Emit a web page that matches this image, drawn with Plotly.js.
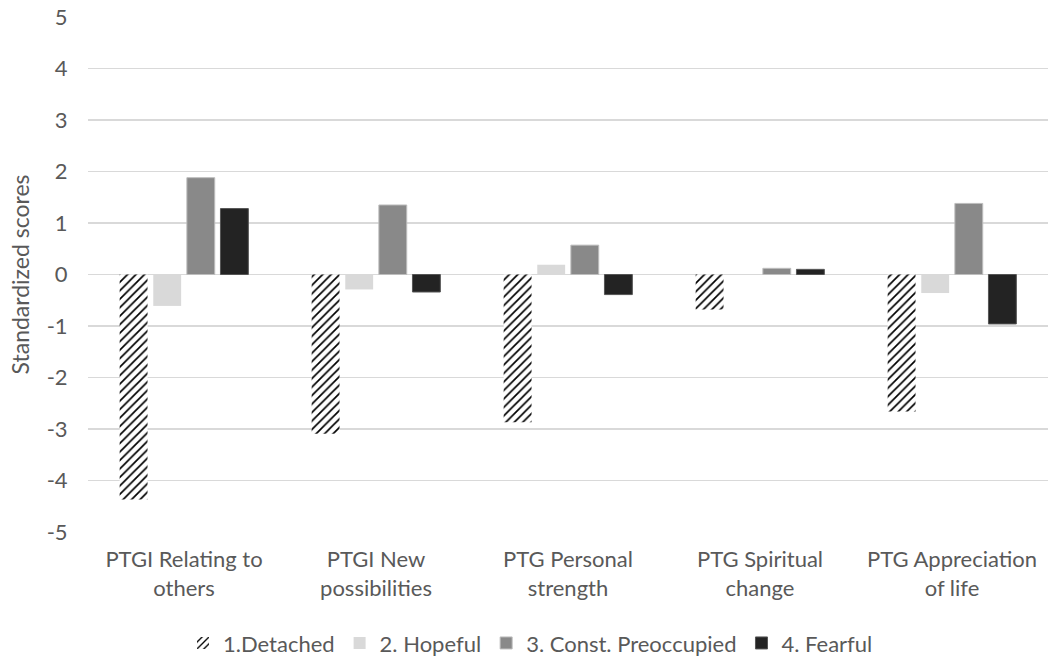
<!DOCTYPE html>
<html>
<head>
<meta charset="utf-8">
<script src="https://cdn.plot.ly/plotly-3.0.1.min.js"></script>
<style>html,body{margin:0;padding:0;background:#fff;}#chart{width:1061px;height:661px;}</style>
</head>
<body>
<div id="chart"></div>
<script>
const categories = ["PTGI Relating to<br>others", "PTGI New<br>possibilities", "PTG Personal<br>strength", "PTG Spiritual<br>change", "PTG Appreciation<br>of life"];
const seriesNames = ["1.Detached", "2. Hopeful", "3. Const. Preoccupied", "4. Fearful"];
const detached = [-4.37, -3.09, -2.87, -0.68, -2.66];
const hopeful = [-0.61, -0.29, 0.19, 0.01, -0.36];
const preoccupied = [1.88, 1.35, 0.57, 0.12, 1.38];
const fearful = [1.28, -0.34, -0.39, 0.10, -0.96];
const yTicks = [-5, -4, -3, -2, -1, 0, 1, 2, 3, 4, 5];

const font = "Lato, Open Sans, sans-serif";
const traces = [
  {type: "bar", name: seriesNames[0], x: categories, y: detached,
   marker: {color: "#ffffff", line: {width: 0},
            pattern: {shape: "/", fgcolor: "#000000", bgcolor: "#ffffff", size: 6, solidity: 0.28}}},
  {type: "bar", name: seriesNames[1], x: categories, y: hopeful,
   marker: {color: "#d9d9d9", line: {width: 0}}},
  {type: "bar", name: seriesNames[2], x: categories, y: preoccupied,
   marker: {color: "#898989", line: {color: "#bdbdbd", width: 1}}},
  {type: "bar", name: seriesNames[3], x: categories, y: fearful,
   marker: {color: "#232323", line: {color: "#555555", width: 1}}}
];

const layout = {
  width: 1061, height: 661,
  margin: {l: 88, r: 13, t: 17, b: 129},
  paper_bgcolor: "#ffffff", plot_bgcolor: "#ffffff",
  barmode: "group", bargap: 0.3, bargroupgap: 0.17,
  font: {family: font, color: "#595959", size: 22},
  xaxis: {showgrid: false, zeroline: false, showline: false,
          ticks: "outside", ticklen: 8, tickcolor: "rgba(0,0,0,0)",
          tickfont: {size: 22, color: "#595959"}, automargin: false},
  yaxis: {range: [-5, 5], tickvals: yTicks, ticktext: yTicks.map(String),
          showgrid: true, gridcolor: "#d9d9d9", gridwidth: 1.5,
          zeroline: true, zerolinecolor: "#d9d9d9", zerolinewidth: 1.5,
          showline: false, ticks: "outside", ticklen: 15, tickcolor: "rgba(0,0,0,0)",
          tickfont: {size: 22, color: "#595959"},
          title: {text: "Standardized scores", font: {size: 23, color: "#595959"}, standoff: 10},
          automargin: "left"},
  legend: {orientation: "h", xref: "container", yref: "container",
           x: 0.5, xanchor: "center", y: 0.027, yanchor: "middle",
           font: {size: 22, color: "#595959"}, traceorder: "normal", itemwidth: 30},
  showlegend: true
};

Plotly.newPlot("chart", traces, layout, {displayModeBar: false, staticPlot: true});
</script>
</body>
</html>
